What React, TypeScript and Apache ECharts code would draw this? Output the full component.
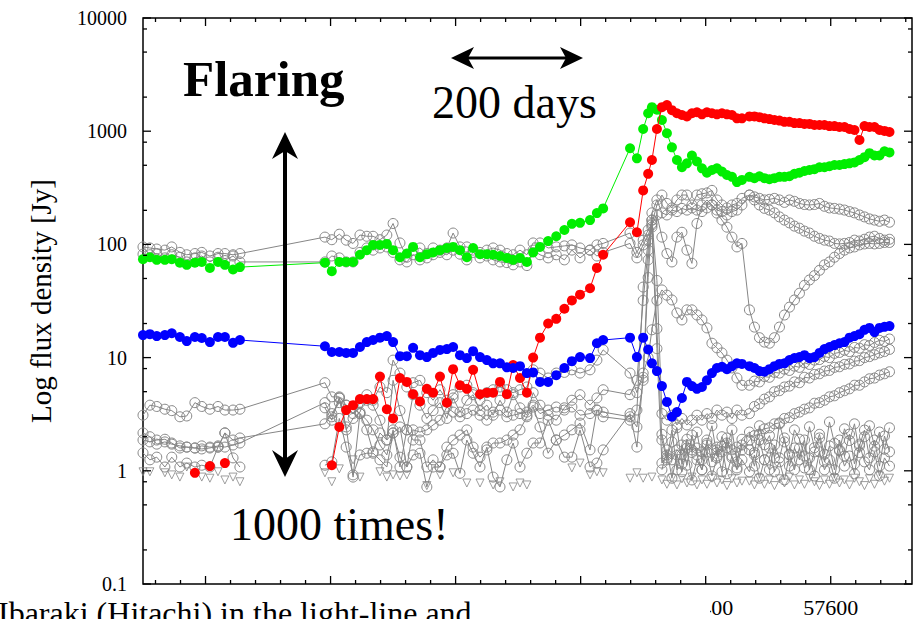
import React, { useEffect, useRef } from 'react';
import * as echarts from 'echarts';

const FONT = '"Liberation Serif", "Times New Roman", serif';
const AXIS_FONT = 'Liberation Serif';

// Observation epochs (MJD), grouped by observing season
const season1Days = [56500, 56511, 56522, 56535, 56546, 56559, 56570, 56583, 56594, 56607, 56620, 56631, 56644, 56655];
const season2Days = [
  56791, 56802, 56814, 56825, 56836, 56847, 56858, 56868, 56879, 56890, 56900, 56911, 56922, 56932, 56943, 56954,
  56964, 56975, 56986, 56996, 57007, 57018, 57028, 57039, 57050, 57060, 57071, 57082, 57092, 57103, 57114, 57124,
  57135, 57148, 57161, 57174, 57186, 57199, 57215, 57226, 57236, 57279, 57290, 57300, 57308, 57314, 57322,
];
const flareDaysA = [57330, 57338, 57346, 57354, 57362, 57370, 57378, 57386, 57394, 57402, 57410, 57418, 57426, 57434, 57442, 57450, 57458];
const flareDaysB = [
  57470, 57478, 57486, 57494, 57502, 57510, 57518, 57526, 57534, 57542, 57550, 57558, 57566, 57574, 57582, 57590,
  57598, 57606, 57614, 57622, 57630, 57638, 57646, 57654, 57662, 57670, 57678, 57686, 57694,
];

// Flux densities (Jy) of the highlighted components
const greenS1 = [74, 77, 73, 73, 74, 69, 66, 69, 70, 62, 70, 66, 60, 63];
const greenS2 = [69, 58, 70, 70, 70, 81, 89, 99, 99, 101, 89, 77, 83, 95, 77, 82, 85, 89, 93, 95, 89, 77, 93, 82, 82, 81, 79, 76, 73, 76, 70, 85, 95, 107, 118, 134, 152, 155, 164, 189, 208, 707, 576, 1045, 1440, 1630, 1550];
const greenA = [1256, 960, 720, 557, 480, 520, 610, 540, 470, 430, 454, 470, 440, 410, 395, 355, 371];
const greenB = [395, 385, 400, 385, 377, 385, 395, 395, 400, 420, 430, 445, 454, 462, 480, 480, 490, 503, 503, 512, 520, 530, 557, 590, 640, 610, 610, 665, 650];

const redS1 = [null, null, null, null, null, null, null, 0.96, null, 1.1, null, 1.17, null, null];
const redS2 = [null, 1.12, 2.44, 3.44, 3.8, 4.3, 4.3, 4.3, 6.8, 3.5, 2.9, 6.6, 6.1, 4.75, 4.1, 5.3, 4.9, 6.8, 4.0, 7.9, 5.7, 5.3, 7.8, 4.75, 4.9, 4.9, 6.1, 4.75, 8.6, 6.6, 4.9, 10, 15, 20, 22, 27, 32, 36, 41, 62, 81, 157, 128, 300, 420, 557, 1045];
const redA = [1630, 1700, 1535, 1440, 1390, 1350, 1440, 1470, 1410, 1470, 1440, 1410, 1440, 1410, 1390, 1300, 1300];
const redB = [1350, 1350, 1330, 1300, 1280, 1256, 1240, 1210, 1210, 1180, 1180, 1160, 1160, 1135, 1135, 1135, 1110, 1110, 1090, 1090, 1045, 1025, 836, 1110, 1090, 1090, 1025, 1005, 984];

const blueS1 = [15.8, 16.1, 15.5, 15.8, 16.4, 15.2, 14, 15.2, 14.9, 13.7, 15.2, 15.2, 13.5, 14.3];
const blueS2 = [12.6, 11.2, 11.2, 11, 11, 12.4, 13.7, 14.3, 15, 15.5, 13.7, 10.3, 10.3, 12.2, 10.5, 10.1, 11, 11.7, 11.9, 12.4, 10.5, 9.9, 11.4, 10.1, 9.5, 8.9, 8.9, 8.2, 8.1, 8.4, 7.3, 7.4, 6.1, 6.1, 7, 8.1, 9.3, 10.1, 9.9, 13.4, 14.3, 15, 10.1, 15, 11.8, 8.9, 7.6];
const blueA = [5.6, 4.06, 3.0, 3.3, 4.4, 6.1, 5.6, 5.3, 5.5, 6.3, 7.3, 8.1, 8.3, 7.9, 8.4, 8.9, 8.8];
const blueB = [8.4, 8.1, 7.6, 7.5, 7.9, 8.4, 8.8, 8.9, 9.5, 9.9, 10.1, 10.5, 9.9, 10.1, 11, 11.9, 12.4, 12.9, 13.4, 13.7, 15, 15.5, 16.1, 17.6, 18.3, 16.8, 18.3, 18.7, 19];

// Flux densities (Jy) of the other velocity components
const c1S1 = [95, 93, 91, 89, 95, 85, 81, 83, 85, 79, 83, 83, 81, 83];
const c1S2 = [116, 110, 123, 109, 102, 121, 118, 118, 110, 121, 153, 103, 77, 89, 93, 83, 93, 89, 93, 126, 95, 95, 89, 85, 89, 93, 89, 83, 81, 89, 81, 103, 103, 93, 95, 97, 99, 93, 89, 99, 102, 126, 85, 109, 134, 153, 223];
const c1A = [273, 230, 210, 247, 273, 273, 223, 273, 280, 285, 300, 247, 223, 210, 223, 230, 255];
const c1B = [273, 263, 255, 247, 250, 255, 247, 235, 247, 240, 230, 225, 223, 225, 230, 217, 210, 208, 205, 201, 195, 190, 182, 175, 168, 164, 160, 164, 157];

const c2S1 = [82, 81, 83, 76, 81, 77, 70, 76, 79, 70, 77, 72, 79, 70];
const c2S2 = [70, 79, 76, 70, 70, 85, 93, 89, 93, 95, 85, 73, 70, 81, 73, 76, 81, 85, 81, 89, 82, 73, 85, 76, 79, 73, 70, 69, 66, 70, 65, 89, 81, 76, 81, 73, 89, 76, 89, 79, 85, 102, 76, 99, 121, 149, 182];
const c2A = [116, 83, 70, 116, 128, 89, 68, 153, 223, 247, 223, 189, 164, 142, 116, 95, 102];
const c2B = [26.4, 18.6, 15, 13.7, 13.4, 15, 18.6, 23.8, 27.9, 32.3, 37, 43.5, 48.5, 53, 59, 66, 70, 77, 83, 89, 93, 95, 99, 101, 102, 101, 102, 104, 104];

const c3S2 = [3.6, 2.8, 4.4, 2.3, 2.9, 3.3, 4.7, 3.8, 2.8, 1.87, 6.3, 3.4, 2.3, 4.7, 3.8, 2.9, 3.4, 4.0, 2.9, 4.4, 3.3, 4.2, 4.7, 3.4, 3.8, 3.1, 4.2, 3.3, 4.7, 3.6, 3.1, 4.9, 3.8, 3.1, 2.8, 3.6, 4.2, 4.7, 3.8, 4.4, 5.2, 4.7, 6.3, 32, 89, 190, 247];
const c3A = [190, 182, 201, 195, 208, 201, 210, 201, 195, 210, 223, 201, 195, 182, 195, 201, 223];
const c3B = [273, 247, 223, 208, 201, 190, 175, 164, 155, 145, 139, 131, 126, 118, 113, 109, 107, 102, 101, 102, 104, 109, 107, 111, 116, 118, 113, 109, 111];

const c4S1 = [3.1, 3.8, 3.7, 3.5, 3.4, 3.0, 3.05, 4.0, 3.7, 3.5, 3.7, 3.44, 3.44, 3.5];
const c4S2 = [6.0, 4.5, 4.5, 3.8, 3.2, 4.0, 4.2, 4.2, 5.5, 4.9, 9.5, 7.3, 5.5, 6.0, 6.3, 4.9, 4.2, 5.2, 4.2, 4.7, 5.5, 5.7, 4.9, 4.2, 4.9, 5.2, 5.5, 5.2, 4.9, 5.2, 5.5, 7.8, 7.3, 6.6, 7.3, 7.4, 7.8, 7.3, 7.8, 9.5, 11.7, 7.3, 4.9, 7.3, 10, 17.6, 32];
const c4A = [39.6, 35.6, 32.3, 24.8, 21.5, 26.4, 26.4, 23.8, 21.5, 18.3, 13.4, 12.2, 11, 9.5, 8.1, 6.6, 5.7];
const c4B = [5.7, 6.2, 6.1, 6.8, 6.7, 7.4, 7.3, 7.9, 7.7, 8.4, 8.2, 9.0, 8.7, 9.5, 9.6, 10.2, 10.0, 10.9, 11.1, 11.6, 11.3, 12.3, 12.1, 13.0, 12.8, 13.6, 14.2, 13.9, 14.6];

const c5S1 = [2.16, 2.0, 1.72, 1.8, 1.72, 1.66, 1.62, 1.59, 1.66, 1.62, 1.62, 2.16, 1.87, 1.95];
const c5S2 = [2.6, 3.2, 4.0, 3.8, 3.6, 3.2, 2.3, 1.47, 2.16, 1.87, 2.16, 2.44, 1.08, 2.3, 2.2, 2.3, 2.54, 2.8, 3.66, 3.3, 3.0, 3.2, 3.44, 3.1, 2.8, 3.3, 3.44, 3.0, 3.1, 3.2, 3.3, 3.8, 3.2, 3.44, 3.66, 3.44, 3.66, 3.1, 3.2, 3.44, 3.3, 3.0, 2.44, 6.3, 73, 164, 48];
const c5A = [3.2, 2.8, 3.1, 2.54, 2.9, 2.54, 2.8, 3.1, 2.8, 3.2, 2.9, 3.44, 3.1, 3.3, 2.9, 3.44, 3.1];
const c5B = [3.2, 3.7, 3.9, 4.3, 4.5, 5.0, 5.1, 5.5, 5.6, 6.1, 6.0, 6.7, 6.6, 7.1, 7.2, 7.6, 7.7, 8.2, 8.3, 8.7, 8.8, 9.3, 9.4, 10.0, 10.2, 10.6, 11.0, 11.3, 11.8];

const c6S1 = [1.87, 1.8, 1.87, 1.9, 1.76, 1.59, 1.62, 1.59, 1.56, 1.59, 1.66, 1.62, 1.69, 1.76];
const c6S2 = [4.0, 3.0, 4.4, 2.44, 0.88, 3.2, 2.8, 2.3, 1.69, 1.38, 2.3, 1.08, 2.3, 1.87, 1.87, 1.08, 1.25, 1.08, 1.62, 1.87, 2.07, 2.3, 1.62, 1.32, 1.53, 1.76, 1.76, 1.87, 2.07, 2.3, 3.0, 3.66, 2.44, 1.43, 1.87, 2.07, 2.3, 2.64, 1.53, 3.44, 3.0, 2.8, 3.44, 42, 109, 142, 12];
const c6A = [1.17, 1.38, 1.25, 1.53, 1.38, 1.69, 1.53, 1.59, 1.47, 1.69, 1.53, 1.62, 1.47, 1.76, 1.53, 1.62, 1.53];
const c6B = [1.87, 2.05, 2.1, 2.35, 2.4, 2.6, 2.65, 2.9, 2.95, 3.2, 3.3, 3.5, 3.6, 3.95, 4.0, 4.2, 4.5, 4.6, 4.9, 5.1, 5.3, 5.7, 5.7, 6.1, 6.5, 6.6, 7.0, 7.2, 7.5];

const c7S1 = [1.44, 1.25, 1.32, 1.08, 1.32, 1.08, 1.17, 1.08, 1.12, 1.08, 1.62, 2.16, 1.3, 1.08];
const c7S2 = [1.12, 1.2, 2.9, 1.62, 0.92, 1.38, 1.43, 1.43, 1.25, 1.08, 2.16, 1.32, 1.08, 1.38, 1.43, 0.72, 1.08, 1.08, 1.38, 1.43, 0.95, 1.87, 1.43, 1.08, 1.62, 0.88, 0.72, 1.25, 1.76, 1.08, 1.43, 1.76, 1.76, 2.8, 1.87, 1.32, 1.32, 2.29, 1.08, 1.17, 1.53, 3.2, 1.62, 6.7, 51, 164, 18];
const c7A = [1.87, 1.25, 2.29, 1.02, 1.69, 1.12, 2.07, 1.38, 1.02, 1.87, 1.2, 1.53, 0.98, 1.95, 1.3, 1.06, 1.69];
const c7B = [1.53, 1.1, 1.87, 1.25, 1.02, 1.69, 1.3, 1.95, 1.1, 1.59, 1.25, 1.87, 1.02, 1.47, 1.95, 1.2, 1.66, 1.02, 1.87, 1.35, 2.11, 1.15, 1.66, 2.29, 1.3, 1.87, 1.1, 2.03, 1.47];

const c8A = [1.02, 1.53, 0.86, 1.38, 0.98, 1.59, 0.83, 1.25, 1.02, 1.47, 0.9, 1.3, 1.66, 0.94, 1.35, 1.02, 1.25];
const c8B = [0.98, 1.38, 0.86, 1.25, 1.59, 0.98, 1.2, 0.83, 1.38, 1.02, 1.59, 1.06, 1.3, 0.9, 1.47, 1.02, 1.25, 0.86, 1.53, 1.1, 1.35, 0.94, 1.72, 1.2, 1.02, 1.47, 0.9, 1.3, 1.1];

const c9A = [2.1, 1.3, 1.8, 2.4, 1.15, 1.9, 1.45, 2.2, 1.25, 1.75, 2.5, 1.35, 2.0, 1.6, 2.3, 1.2, 1.9];
const c9B = [2.2, 1.45, 2.5, 1.7, 2.05, 1.3, 2.6, 1.8, 1.4, 2.3, 1.9, 1.35, 2.45, 1.6, 2.1, 1.4, 2.7, 1.75, 1.5, 2.35, 1.85, 2.6, 1.45, 2.0, 2.5, 1.65, 2.2, 1.55, 2.4];

// Upper limits for non-detections
const limitS1 = [0.98, 0.98, null, 0.96, 0.92, 0.88, 1.08, null, 0.88, 0.86, 0.98, 0.83, 0.88, 0.8];
const limitS2 = [0.96, 0.8, 1.04, null, 1.25, 0.88, null, null, 0.98, 0.88, 0.92, 0.9, 0.92, null, null, 0.74, null, 0.92, null, 0.96, null, 0.78, null, 0.78, null, 0.75, 0.8, null, 0.72, 0.78, 0.75, null, null, null, null, null, 1.06, 1.17, 0.92, 0.98, 0.96, 0.86, 0.96, 0.86, null, 0.88, null];
const limitA = [0.83, 0.76, 0.86, 0.75, 0.85, 0.78, 0.88, 0.75, 0.83, 0.76, 0.86, 0.78, 0.83, 0.74, 0.85, 0.78, 0.81];
const limitB = [0.81, 0.75, 0.86, 0.76, 0.83, 0.74, 0.85, 0.78, 0.88, 0.75, 0.83, 0.76, 0.86, 0.8, 0.74, 0.83, 0.76, 0.86, 0.78, 0.83, 0.75, 0.86, 0.8, 0.74, 0.85, 0.76, 0.9, 0.81, 0.86];

// Axis ticks and the date labels left uncovered
const xTickStep = 40;
const xMajorStep = 200;
const xLabelledDays = [57400, 57600];
const yDecades = [0.1, 1, 10, 100, 1000, 10000];
const yMinorFactors = [2, 5, 8];

type V = number | null;

function joinSeasons(s1: V[] | null, s2: V[] | null, a: V[], b: V[], linkSeasons = true) {
  const pts: [number, V][] = [];
  if (s1) s1.forEach((v, i) => pts.push([season1Days[i], v]));
  if (s1 && !linkSeasons) pts.push([56720, null]);
  if (s2) s2.forEach((v, i) => pts.push([season2Days[i], v]));
  a.forEach((v, i) => pts.push([flareDaysA[i], v]));
  b.forEach((v, i) => pts.push([flareDaysB[i], v]));
  return pts;
}

const GREY = '#868686';

const greyComponents = [
  joinSeasons(c1S1, c1S2, c1A, c1B),
  joinSeasons(c2S1, c2S2, c2A, c2B),
  joinSeasons(null, c3S2, c3A, c3B),
  joinSeasons(c4S1, c4S2, c4A, c4B),
  joinSeasons(c5S1, c5S2, c5A, c5B),
  joinSeasons(c6S1, c6S2, c6A, c6B),
  joinSeasons(c7S1, c7S2, c7A, c7B, false),
  joinSeasons(null, null, c8A, c8B),
  joinSeasons(null, null, c9A, c9B),
];

const colouredComponents = [
  { color: '#00ee00', data: joinSeasons(greenS1, greenS2, greenA, greenB) },
  { color: '#ff0000', data: joinSeasons(redS1, redS2, redA, redB) },
  { color: '#0000ff', data: joinSeasons(blueS1, blueS2, blueA, blueB) },
];

function buildTicks() {
  const ticks: number[][] = [];
  for (let d = 56520; d <= 57720; d += xTickStep) {
    ticks.push([d, 1, 0, d % xMajorStep === 0 ? 8 : 4]);
  }
  yDecades.forEach((v) => ticks.push([56600, v, 1, 8]));
  yDecades.slice(0, -1).forEach((v) =>
    yMinorFactors.forEach((f) => ticks.push([56600, +(v * f).toPrecision(3), 1, 4]))
  );
  return ticks;
}

const axisText = { color: '#000', fontSize: 22, fontFamily: AXIS_FONT, fontWeight: 'normal' as const };

export default function App() {
  const ref = useRef<HTMLDivElement>(null);

  useEffect(() => {
    if (!ref.current) return;
    const chart = echarts.init(ref.current, null, { renderer: 'svg' });

    const series: any[] = [];
    series.push({
      type: 'scatter',
      data: joinSeasons(limitS1, limitS2, limitA, limitB),
      symbol: 'triangle',
      symbolRotate: 180,
      symbolSize: 8,
      itemStyle: { color: 'rgba(0,0,0,0)', borderColor: GREY, borderWidth: 1 },
      silent: true,
      z: 2,
    });
    greyComponents.forEach((data) =>
      series.push({
        type: 'line',
        data,
        symbol: 'circle',
        symbolSize: 10,
        showAllSymbol: true,
        connectNulls: false,
        lineStyle: { color: GREY, width: 1 },
        itemStyle: { color: 'rgba(0,0,0,0)', borderColor: GREY, borderWidth: 1 },
        silent: true,
        z: 3,
      })
    );
    colouredComponents.forEach((c, i) =>
      series.push({
        type: 'line',
        data: c.data,
        symbol: 'circle',
        symbolSize: 10,
        showAllSymbol: true,
        connectNulls: false,
        lineStyle: { color: c.color, width: 1 },
        itemStyle: { color: c.color, borderWidth: 0 },
        silent: true,
        z: 4 + i,
      })
    );
    series.push({
      type: 'custom',
      data: buildTicks(),
      encode: { x: 0, y: 1 },
      silent: true,
      z: 10,
      renderItem: (params: any, api: any) => {
        const cs = params.coordSys;
        const kind = api.value(2);
        const len = api.value(3);
        const p = api.coord([api.value(0), api.value(1)]);
        const style = { stroke: '#000', lineWidth: 1.3 };
        if (kind === 0) {
          const bottom = cs.y + cs.height;
          return {
            type: 'group',
            children: [
              { type: 'line', shape: { x1: p[0], y1: bottom, x2: p[0], y2: bottom - len }, style },
              { type: 'line', shape: { x1: p[0], y1: cs.y, x2: p[0], y2: cs.y + len }, style },
            ],
          };
        }
        const right = cs.x + cs.width;
        return {
          type: 'group',
          children: [
            { type: 'line', shape: { x1: cs.x, y1: p[1], x2: cs.x + len, y2: p[1] }, style },
            { type: 'line', shape: { x1: right, y1: p[1], x2: right - len, y2: p[1] }, style },
          ],
        };
      },
    });

    const label = (text: string, x: number, y: number, size: number, weight = 'normal') => ({
      type: 'text',
      x,
      y,
      z: 101,
      style: {
        text,
        font: `${weight} ${size}px ${FONT}`,
        fill: '#000',
        textAlign: 'left',
        textVerticalAlign: 'middle',
      },
    });

    chart.setOption({
      animation: false,
      backgroundColor: '#ffffff',
      textStyle: { fontFamily: AXIS_FONT },
      grid: {
        left: 143,
        top: 18,
        width: 769,
        height: 566,
        show: true,
        borderColor: '#000',
        borderWidth: 1.5,
        backgroundColor: 'transparent',
      },
      xAxis: {
        type: 'value',
        min: 56500,
        max: 57730,
        splitNumber: 5,
        axisLine: { show: false },
        axisTick: { show: false },
        splitLine: { show: false },
        axisLabel: {
          ...axisText,
          margin: 12,
          showMinLabel: false,
          showMaxLabel: false,
          formatter: (v: number) => (xLabelledDays.includes(v) ? String(v) : ''),
        },
      },
      yAxis: {
        type: 'log',
        logBase: 10,
        min: 0.1,
        max: 10000,
        name: 'Log flux density [Jy]',
        nameLocation: 'middle',
        nameGap: 88,
        nameRotate: 90,
        nameTextStyle: { ...axisText, fontSize: 29 },
        axisLine: { show: false },
        axisTick: { show: false },
        splitLine: { show: false },
        axisLabel: {
          ...axisText,
          fontSize: 20,
          margin: 16,
          formatter: (v: number) => (v < 1 ? v.toFixed(1) : String(Math.round(v))),
        },
      },
      series,
      graphic: [
        // strip of the following slide covering part of the date labels
        { type: 'rect', z: 100, shape: { x: 0, y: 595, width: 710, height: 24 }, style: { fill: '#ffffff' } },
        label('Ibaraki (Hitachi) in the light-line and', -2, 613, 32),
        label('Flaring', 183, 79, 51, 'bold'),
        label('200 days', 432, 102, 46),
        label('1000 times!', 230, 524, 46),
        // vertical double arrow
        { type: 'line', z: 101, shape: { x1: 285, y1: 148, x2: 285, y2: 462 }, style: { stroke: '#000', lineWidth: 4 } },
        { type: 'polygon', z: 101, shape: { points: [[285, 132], [298, 159], [285, 151], [272, 159]] }, style: { fill: '#000' } },
        { type: 'polygon', z: 101, shape: { points: [[285, 477], [298, 450], [285, 459], [272, 450]] }, style: { fill: '#000' } },
        // horizontal double arrow
        { type: 'line', z: 101, shape: { x1: 466, y1: 58, x2: 568, y2: 58 }, style: { stroke: '#000', lineWidth: 3 } },
        { type: 'polygon', z: 101, shape: { points: [[451, 58], [474, 47], [468, 58], [474, 69]] }, style: { fill: '#000' } },
        { type: 'polygon', z: 101, shape: { points: [[583, 58], [560, 47], [566, 58], [560, 69]] }, style: { fill: '#000' } },
      ],
    });

    return () => chart.dispose();
  }, []);

  return (
    <div
      ref={ref}
      style={{ position: 'fixed', left: 0, top: 0, width: 918, height: 619, background: '#fff' }}
    />
  );
}
